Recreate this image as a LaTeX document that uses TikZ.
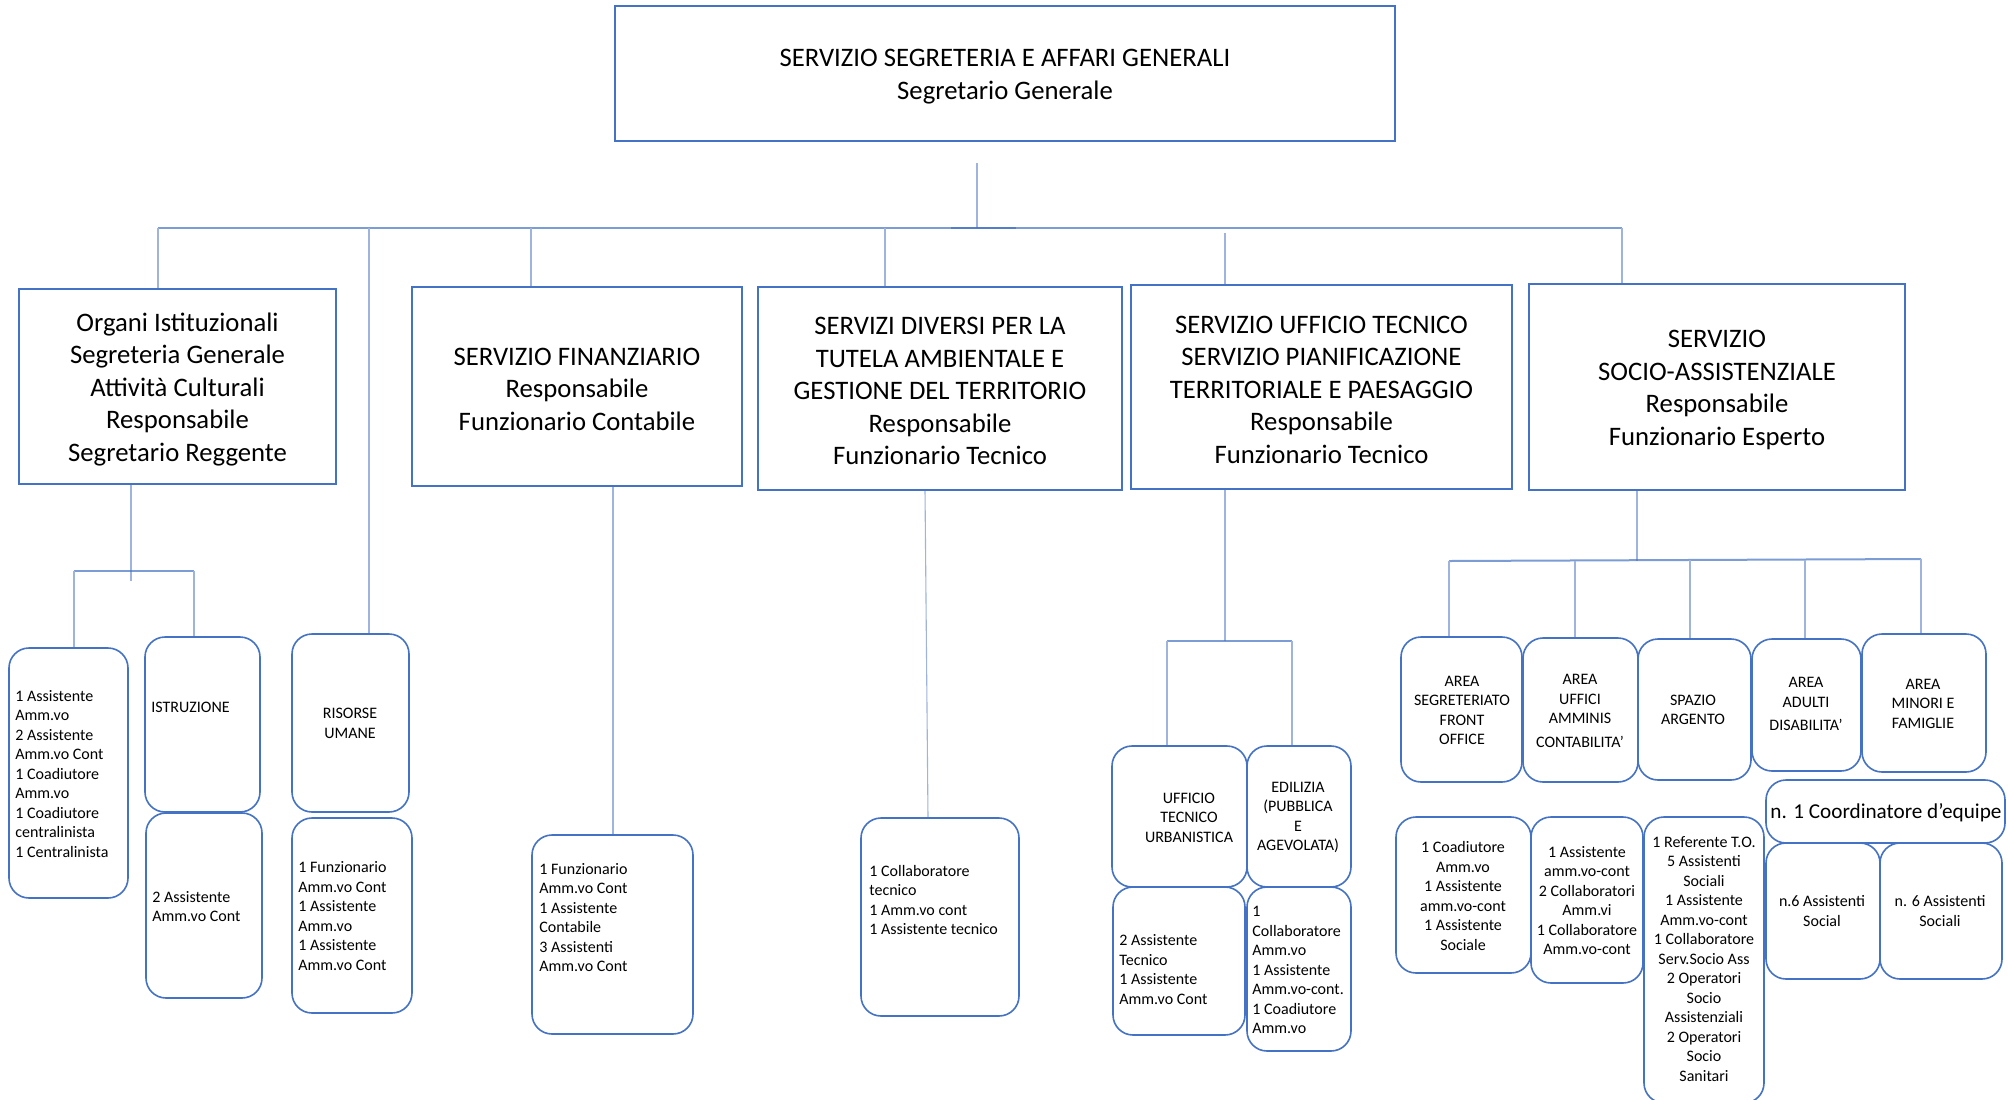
\documentclass[tikz,border=0pt]{standalone}
\usepackage{fontspec}
\setmainfont{Carlito}
\usetikzlibrary{backgrounds}
\definecolor{bdr}{HTML}{4472C4}
\definecolor{cnl}{HTML}{9EB4DC}
\newcommand\bx[6]{\node[#6, minimum width={(#4-#2)*0.5pt}, minimum height={(#5-#3)*0.5pt}] (#1) at ({(#2+#4)/2},{(#3+#5)/2}) {};}
\begin{document}
\begin{tikzpicture}[x=0.5pt,y=-0.5pt,
  sq/.style={draw=bdr, line width=0.8pt, fill=white, inner sep=0pt, outer sep=0pt},
  rb/.style={sq, rounded corners=10pt},
  big/.style={font=\fontsize{13.35}{16.25}\selectfont, align=center, inner sep=0pt, yshift=-1.4pt},
  sm/.style={font=\fontsize{8}{9.75}\selectfont, inner sep=0pt},
  smc/.style={sm, align=center},
  sml/.style={sm, align=left, anchor=west},
  cn/.style={draw=cnl, line width=0.55pt},
  hl/.style={draw=bdr, line width=1pt, opacity=0.7},
]
\useasboundingbox (0,0) rectangle (2008,1099);
% ---------- boxes ----------
\bx{T}{615}{6}{1395}{141}{sq}
\bx{B1}{19}{289}{336}{484}{sq}
\bx{B2}{412}{287}{742}{486}{sq}
\bx{B3}{758}{287}{1122}{490}{sq}
\bx{B4}{1131}{285}{1512}{489}{sq}
\bx{B5}{1529}{284}{1905}{490}{sq}
% left staff
\bx{L1}{9}{648}{128}{898}{rb}
\bx{IST}{145}{637}{260}{812}{rb}
\bx{ISTs}{146}{813}{262}{998}{rb}
\bx{RU}{292}{634}{409}{812}{rb}
\bx{RUs}{292}{818}{412}{1013}{rb}
\bx{FS}{532}{835}{693}{1034}{rb}
\bx{TS}{861}{818}{1019}{1016}{rb}
\bx{UT}{1112}{746}{1247}{887}{rb}
\bx{ED}{1247}{746}{1351}{887}{rb}
\bx{UTs}{1113}{887}{1245}{1035}{rb}
\bx{EDs}{1247}{887}{1351}{1051}{rb}
% socio-assistenziale
\bx{A1}{1401}{637}{1522}{782}{rb}
\bx{A2}{1523}{638}{1638}{782}{rb}
\bx{A3}{1638}{639}{1751}{780}{rb}
\bx{A4}{1752}{639}{1861}{771}{rb}
\bx{A5}{1862}{634}{1986}{772}{rb}
\bx{CO}{1766}{780}{2005}{843}{rb}
\bx{S1}{1396}{817}{1531}{973}{rb}
\bx{S2}{1531}{817}{1643}{983}{rb}
\bx{S3}{1644}{817}{1764}{1103}{rb}
\bx{S4}{1766}{843}{1880}{979}{rb}
\bx{S5}{1880}{843}{2002}{979}{rb}
% ---------- connectors ----------
\begin{scope}[on background layer]
\fill[white] (0,0) rectangle (2008,1099);
\coordinate (tA) at (977,163);
\coordinate (tB) at (977,228);
\coordinate (hL) at (158,228);
\coordinate (hR) at (1622,228);
\coordinate (hM1) at (1016,228);
\coordinate (hM2) at (951,228);
\coordinate (j2) at (369,228);
\coordinate (j3) at (531,228);
\coordinate (j4) at (885,228);
\coordinate (j5) at (1225,233);
\draw[cn] (tA) -- (tB);
\draw[hl] (hL) -- (hM1);
\draw[hl] (hM2) -- (hR);
\draw[cn] (hL) -- (hL |- B1.north);
\draw[cn] (j2) -- (j2 |- RU.north);
\draw[cn] (j3) -- (j3 |- B2.north);
\draw[cn] (j4) -- ([yshift=-3pt]j4 |- B3.north);
\draw[cn] (j5) -- (j5 |- B4.north);
\draw[cn] (hR) -- (hR |- B5.north);
% B1 branch
\coordinate (k0) at (131,581);
\coordinate (kL) at (74,571);
\coordinate (kR) at (194,571);
\draw[cn] (k0 |- B1.south) -- (k0);
\draw[hl] (kL) -- (kR);
\draw[cn] (kL) -- (kL |- L1.north);
\draw[cn] (kR) -- (kR |- IST.north);
% B2 branch
\coordinate (m2) at (613,0);
\draw[cn] (m2 |- B2.south) -- (m2 |- FS.north);
% B3 branch
\coordinate (m3a) at (925,0);
\coordinate (m3b) at (928,0);
\draw[cn] (m3a |- B3.south) -- (m3b |- TS.north);
% B4 branch
\coordinate (n0) at (1225,641);
\coordinate (nL) at (1167,641);
\coordinate (nR) at (1292,641);
\draw[cn] ([yshift=2pt]n0 |- B4.south) -- (n0);
\draw[hl] (nL) -- (nR);
\draw[cn] (nL) -- (nL |- UT.north);
\draw[cn] (nR) -- (nR |- ED.north);
% B5 branch
\coordinate (p0) at (1637,561);
\coordinate (pL) at (1449,561);
\coordinate (pR) at (1921,559);
\coordinate (q2) at (1575,561);
\coordinate (q3) at (1690,560);
\coordinate (q4) at (1805,560);
\draw[cn] (p0 |- B5.south) -- (p0);
\draw[hl] (pL) -- (pR);
\draw[cn] (pL) -- (pL |- A1.north);
\draw[cn] (q2) -- (q2 |- A2.north);
\draw[cn] (q3) -- (q3 |- A3.north);
\draw[cn] (q4) -- (q4 |- A4.north);
\draw[cn] (pR) -- (pR |- A5.north);
\end{scope}
% ---------- texts ----------
\node[big] (Tt) at (1005,74) {SERVIZIO SEGRETERIA E AFFARI GENERALI\\Segretario Generale};
\node[big] (B1t) at (B1.center) {Organi Istituzionali\\Segreteria Generale\\Attività Culturali\\Responsabile\\Segretario Reggente};
\node[big] (B2t) at (B2.center) {SERVIZIO FINANZIARIO\\Responsabile\\Funzionario Contabile};
\node[big] (B3t) at (B3.center) {SERVIZI DIVERSI PER LA\\TUTELA AMBIENTALE E\\GESTIONE DEL TERRITORIO\\Responsabile\\Funzionario Tecnico};
\node[big] (B4t) at (B4.center) {SERVIZIO UFFICIO TECNICO\\SERVIZIO PIANIFICAZIONE\\TERRITORIALE E PAESAGGIO\\Responsabile\\Funzionario Tecnico};
\node[big] (B5t) at (B5.center) {SERVIZIO\\SOCIO-ASSISTENZIALE\\Responsabile\\Funzionario Esperto};
\node[sml] (L1t) at (15,774) {1 Assistente\\Amm.vo\\2 Assistente\\Amm.vo Cont\\1 Coadiutore\\Amm.vo\\1 Coadiutore\\centralinista\\1 Centralinista};
\node[sml] (ISTt) at (151,707) {ISTRUZIONE};
\node[sml] (ISTst) at (152,906.5) {2 Assistente\\Amm.vo Cont};
\node[smc] (RUt) at (350,723.5) {RISORSE\\UMANE};
\node[sml] (RUst) at (298,916) {1 Funzionario\\Amm.vo Cont\\1 Assistente\\Amm.vo\\1 Assistente\\Amm.vo Cont};
\node[sml] (FSt) at (539,917.5) {1 Funzionario\\Amm.vo Cont\\1 Assistente\\Contabile\\3 Assistenti\\Amm.vo Cont};
\node[sml] (TSt) at (869,900) {1 Collaboratore\\tecnico\\1 Amm.vo cont\\1 Assistente tecnico};
\node[smc] (UTt) at (1189,817.5) {UFFICIO\\TECNICO\\URBANISTICA};
\node[smc] (EDt) at (1298,817.5) {EDILIZIA\\(PUBBLICA\\E\\AGEVOLATA)};
\node[sml] (UTst) at (1119,969.5) {2 Assistente\\Tecnico\\1 Assistente\\Amm.vo Cont};
\node[sml] (EDst) at (1252,970) {1\\Collaboratore\\Amm.vo\\1 Assistente\\Amm.vo-cont.\\1 Coadiutore\\Amm.vo};
\node[smc] (A1t) at (1462,710.5) {AREA\\SEGRETERIATO\\FRONT\\OFFICE};
\node[smc] (A2t) at (1580,711) {AREA\\UFFICI\\AMMINIS\\[2pt]CONTABILITA’};
\node[smc] (A3t) at (1693,710) {SPAZIO\\ARGENTO};
\node[smc] (A4t) at (1806,704) {AREA\\ADULTI\\[2pt]DISABILITA’};
\node[smc] (A5t) at (1923,703.5) {AREA\\MINORI E\\FAMIGLIE};
\node[font=\fontsize{10.6}{13}\selectfont, inner sep=0pt] (COt) at (1886,813) {n. 1 Coordinatore d’equipe};
\node[smc] (S1t) at (1463,896) {1 Coadiutore\\Amm.vo\\1 Assistente\\amm.vo-cont\\1 Assistente\\Sociale};
\node[smc] (S2t) at (1587,900.5) {1 Assistente\\amm.vo-cont\\2 Collaboratori\\Amm.vi\\1 Collaboratore\\Amm.vo-cont};
\node[smc] (S3t) at (1704,959) {1 Referente T.O.\\5 Assistenti\\Sociali\\1 Assistente\\Amm.vo-cont\\1 Collaboratore\\Serv.Socio Ass\\2 Operatori\\Socio\\Assistenziali\\2 Operatori\\Socio\\Sanitari};
\node[smc] (S4t) at (1822,911) {n.6 Assistenti\\Social};
\node[smc] (S5t) at (1940,911) {n. 6 Assistenti\\Sociali};
\end{tikzpicture}
\end{document}
